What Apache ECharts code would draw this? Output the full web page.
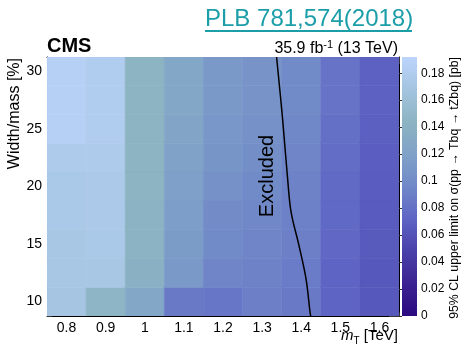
<!DOCTYPE html>
<html>
<head>
<meta charset="utf-8">
<script src="https://cdn.jsdelivr.net/npm/echarts@6/dist/echarts.min.js"></script>
<style>
  html, body { margin: 0; padding: 0; background: #ffffff; }
  #chart { width: 464px; height: 348px; }
</style>
</head>
<body>
<div id="chart"></div>
<script>
// Bin centres of the limit map
const massCenters = [0.8, 0.9, 1.0, 1.1, 1.2, 1.3, 1.4, 1.5, 1.6];      // m_T [TeV]
const widthCenters = [10, 12.5, 15, 17.5, 20, 22.5, 25, 27.5, 30];     // width/mass [%]

// 95% CL upper limits [pb], one array per mass column, widths 10% -> 30%
const limit_m080 = [0.170, 0.172, 0.172, 0.174, 0.174, 0.178, 0.186, 0.186, 0.186];
const limit_m090 = [0.146, 0.172, 0.174, 0.176, 0.176, 0.178, 0.180, 0.180, 0.180];
const limit_m100 = [0.126, 0.140, 0.142, 0.142, 0.144, 0.144, 0.144, 0.144, 0.144];
const limit_m110 = [0.086, 0.112, 0.114, 0.116, 0.118, 0.120, 0.124, 0.126, 0.126];
const limit_m120 = [0.084, 0.094, 0.098, 0.100, 0.104, 0.108, 0.110, 0.112, 0.112];
const limit_m130 = [0.090, 0.092, 0.094, 0.096, 0.098, 0.102, 0.104, 0.106, 0.106];
const limit_m140 = [0.086, 0.088, 0.090, 0.091, 0.092, 0.094, 0.096, 0.098, 0.098];
const limit_m150 = [0.072, 0.072, 0.074, 0.075, 0.076, 0.078, 0.080, 0.082, 0.082];
const limit_m160 = [0.064, 0.064, 0.065, 0.066, 0.067, 0.068, 0.069, 0.070, 0.070];
const limitColumns = [limit_m080, limit_m090, limit_m100, limit_m110, limit_m120,
                      limit_m130, limit_m140, limit_m150, limit_m160];

// Exclusion contour (theory = observed limit)
const contourMass  = [1.337, 1.352, 1.3654, 1.374, 1.3944, 1.4123, 1.4225, 1.4243];
const contourWidth = [31.25, 26.0, 20.6, 17.8, 14.85, 11.97, 9.1, 8.75];

// Axis ranges and tick steps
const massRange = [0.75, 1.65];
const widthRange = [8.75, 31.25];
const zRange = [0, 0.192];
const massMajor = 0.1, massMinor = 0.02;
const widthMajor = 5, widthMinor = 1;
const zMajor = 0.02;

// Colour palette, evenly spread from zRange[0] to zRange[1]
const palette = ['#2c0a80', '#3b2392', '#4a40aa', '#5e64c4', '#7088c8',
                 '#80a2c8', '#8cb4c2', '#a4c4e0', '#bcd4fc'];

const FONT = '"Liberation Sans", Arial, Helvetica, sans-serif';

const cells = [];
massCenters.forEach((m, i) => {
  widthCenters.forEach((w, j) => {
    cells.push([m, w, limitColumns[i][j]]);
  });
});
const binDX = massCenters[1] - massCenters[0];
const binDY = widthCenters[1] - widthCenters[0];

function valueAxis(extra) {
  return Object.assign({
    type: 'value',
    gridIndex: 0,
    axisLine: { show: false },
    axisTick: { show: true, inside: true, lineStyle: { color: '#333', width: 1 } },
    axisLabel: { show: false },
    splitLine: { show: false }
  }, extra);
}

function rangeAxis(range, position, step, tickLen, labels, line) {
  return valueAxis({
    position: position,
    min: range[0], max: range[1],
    minInterval: step, maxInterval: step,
    splitNumber: Math.round((range[1] - range[0]) / step),
    axisLine: { show: line, lineStyle: { color: '#000', width: 1 } },
    axisTick: { show: true, inside: true, length: tickLen, lineStyle: { color: '#333', width: 1 } },
    axisLabel: labels ? {
      show: true, showMinLabel: false, showMaxLabel: false,
      fontSize: 14, color: '#000', margin: 5, fontFamily: FONT
    } : { show: false }
  });
}

const chart = echarts.init(document.getElementById('chart'), null, { renderer: 'canvas' });

chart.setOption({
  animation: false,
  backgroundColor: '#ffffff',
  grid: [
    { left: 47, top: 57, width: 352, height: 259 },
    { left: 402, top: 57, width: 15, height: 259 }
  ],
  xAxis: [
    rangeAxis(massRange, 'bottom', massMajor, 7, true, true),
    rangeAxis(massRange, 'bottom', massMinor, 3.5, false, false),
    rangeAxis(massRange, 'top', massMajor, 7, false, true),
    rangeAxis(massRange, 'top', massMinor, 3.5, false, false),
    { type: 'value', gridIndex: 1, min: 0, max: 1, show: false }
  ],
  yAxis: [
    rangeAxis(widthRange, 'left', widthMajor, 10, true, true),
    rangeAxis(widthRange, 'left', widthMinor, 5, false, false),
    rangeAxis(widthRange, 'right', widthMajor, 10, false, true),
    rangeAxis(widthRange, 'right', widthMinor, 5, false, false),
    {
      type: 'value', gridIndex: 1, position: 'right',
      min: zRange[0], max: zRange[1], interval: zMajor,
      axisLine: { show: false },
      axisTick: { show: true, inside: true, length: 5, lineStyle: { color: '#333', width: 1 } },
      axisLabel: { show: true, showMaxLabel: false, fontSize: 12, color: '#000', margin: 4, fontFamily: FONT },
      splitLine: { show: false }
    }
  ],
  visualMap: {
    show: false,
    type: 'continuous',
    seriesIndex: 0,
    dimension: 2,
    min: zRange[0], max: zRange[1],
    inRange: { color: palette }
  },
  series: [
    {
      // limit map
      type: 'custom',
      xAxisIndex: 0, yAxisIndex: 0,
      data: cells,
      clip: true,
      renderItem: function (params, api) {
        const x = api.value(0), y = api.value(1);
        const p0 = api.coord([x - binDX / 2, y + binDY / 2]);
        const p1 = api.coord([x + binDX / 2, y - binDY / 2]);
        const c = api.visual('color');
        return {
          type: 'rect',
          shape: { x: p0[0], y: p0[1], width: p1[0] - p0[0], height: p1[1] - p0[1] },
          style: { fill: c, stroke: c, lineWidth: 0.6 }
        };
      }
    },
    {
      // exclusion contour
      type: 'line',
      xAxisIndex: 0, yAxisIndex: 0,
      data: contourMass.map((m, i) => [m, contourWidth[i]]),
      smooth: 0.35,
      symbol: 'none',
      clip: true,
      lineStyle: { color: '#000', width: 1.5 },
      z: 5
    },
    {
      // colour scale bar
      type: 'custom',
      xAxisIndex: 4, yAxisIndex: 4,
      data: [[0, zRange[0], zRange[1]]],
      renderItem: function (params, api) {
        const p0 = api.coord([0, api.value(2)]);
        const p1 = api.coord([1, api.value(1)]);
        const stops = palette.map((c, i) => ({ offset: 1 - i / (palette.length - 1), color: c }));
        return {
          type: 'rect',
          shape: { x: p0[0], y: p0[1], width: p1[0] - p0[0], height: p1[1] - p0[1] },
          style: { fill: new echarts.graphic.LinearGradient(0, 0, 0, 1, stops) }
        };
      },
      z: 1
    }
  ],
  graphic: [
    {
      type: 'text', x: 205, y: 19,
      style: { text: 'PLB 781,574(2018)', font: '24px ' + FONT, fill: '#1b9ea8',
               align: 'left', verticalAlign: 'middle' }
    },
    {
      type: 'line', shape: { x1: 205, y1: 31, x2: 412, y2: 31 },
      style: { stroke: '#1b9ea8', lineWidth: 2 }
    },
    {
      type: 'text', x: 47, y: 46,
      style: { text: 'CMS', font: 'bold 20px ' + FONT, fill: '#000', align: 'left', verticalAlign: 'middle' }
    },
    {
      type: 'text', x: 398, y: 48,
      style: {
        text: '{n|35.9 fb}{s|-1}{n| (13 TeV)}',
        align: 'right', verticalAlign: 'middle',
        rich: {
          n: { font: '16px ' + FONT, fill: '#000', lineHeight: 18, verticalAlign: 'bottom' },
          s: { font: '11px ' + FONT, fill: '#000', lineHeight: 18, verticalAlign: 'top' }
        }
      }
    },
    {
      type: 'text', x: 15, y: 58, rotation: Math.PI / 2,
      style: { text: 'Width/mass [%]', font: '16px ' + FONT, fill: '#000',
               align: 'right', verticalAlign: 'middle' }
    },
    {
      type: 'text', x: 398, y: 337,
      style: {
        text: '{i|m}{b|T}{n| [TeV]}',
        align: 'right', verticalAlign: 'middle',
        rich: {
          i: { font: 'italic 15px ' + FONT, fill: '#000', lineHeight: 18, verticalAlign: 'top' },
          b: { font: '10px ' + FONT, fill: '#000', lineHeight: 18, verticalAlign: 'bottom' },
          n: { font: '15px ' + FONT, fill: '#000', lineHeight: 18, verticalAlign: 'top' }
        }
      }
    },
    {
      type: 'text', x: 455, y: 57, rotation: Math.PI / 2,
      style: { text: '95% CL upper limit on σ(pp → Tbq → tZbq) [pb]', font: '12.3px ' + FONT,
               fill: '#000', align: 'right', verticalAlign: 'middle' }
    },
    {
      type: 'text', x: 267, y: 176, rotation: Math.PI / 2, z: 10,
      style: { text: 'Excluded', font: '20px ' + FONT, fill: '#000',
               align: 'center', verticalAlign: 'middle' }
    }
  ]
});
</script>
</body>
</html>
